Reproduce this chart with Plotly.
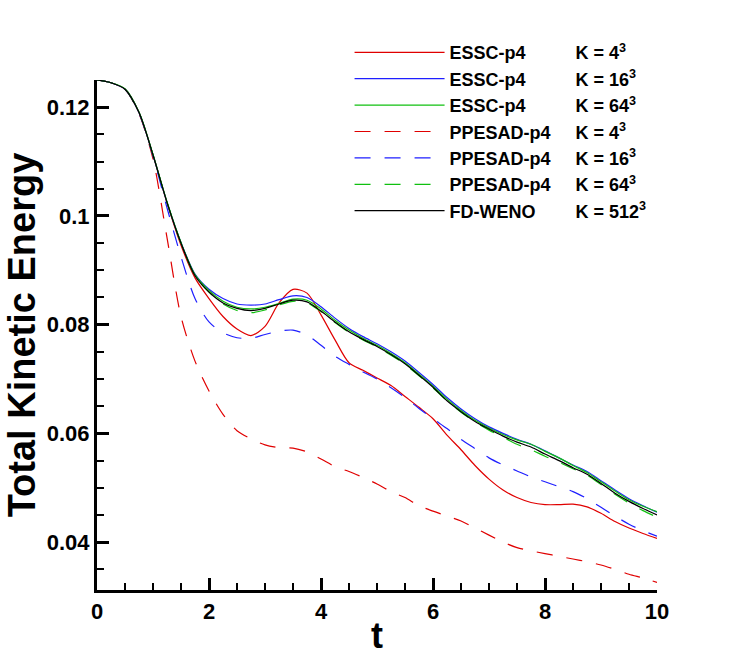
import plotly.graph_objects as go

# time samples
t = [i * 0.25 for i in range(41)]

essc_4 = [0.1250, 0.1245, 0.1233, 0.1190, 0.1112, 0.1024, 0.0946, 0.0886, 0.0848, 0.0815,
          0.0792, 0.0780, 0.0797, 0.0840, 0.0865, 0.0858, 0.0818, 0.0772, 0.0730, 0.0716,
          0.0702, 0.0688, 0.0668, 0.0648, 0.0627, 0.0597, 0.0570, 0.0541, 0.0516, 0.0496,
          0.0482, 0.0473, 0.0469, 0.0469, 0.0470, 0.0465, 0.0453, 0.0438, 0.0426, 0.0416, 0.0407]
essc_16 = [0.1250, 0.1245, 0.1233, 0.1190, 0.1112, 0.1025, 0.0951, 0.0893, 0.0865, 0.0848,
           0.0838, 0.0836, 0.0838, 0.0846, 0.0853, 0.0850, 0.0833, 0.0812, 0.0793, 0.0778,
           0.0765, 0.0750, 0.0733, 0.0712, 0.0690, 0.0666, 0.0645, 0.0627, 0.0612, 0.0600,
           0.0589, 0.0580, 0.0568, 0.0555, 0.0542, 0.0530, 0.0513, 0.0496, 0.0480, 0.0467, 0.0455]
essc_64 = [0.1250, 0.1245, 0.1234, 0.1191, 0.1113, 0.1026, 0.0951, 0.0892, 0.0863, 0.0843,
           0.0832, 0.0829, 0.0832, 0.0839, 0.0847, 0.0845, 0.0829, 0.0808, 0.0790, 0.0775,
           0.0762, 0.0747, 0.0730, 0.0709, 0.0687, 0.0663, 0.0642, 0.0624, 0.0610, 0.0598,
           0.0588, 0.0580, 0.0567, 0.0555, 0.0541, 0.0528, 0.0511, 0.0494, 0.0478, 0.0466, 0.0456]
ppesad_4 = [0.1250, 0.1245, 0.1233, 0.1188, 0.1105, 0.0960, 0.0815, 0.0733, 0.0678, 0.0635,
            0.0605, 0.0590, 0.0579, 0.0574, 0.0573, 0.0566, 0.0553, 0.0539, 0.0530, 0.0519,
            0.0507, 0.0493, 0.0482, 0.0467, 0.0457, 0.0448, 0.0439, 0.0426, 0.0413, 0.0400,
            0.0390, 0.0384, 0.0379, 0.0374, 0.0369, 0.0364, 0.0358, 0.0350, 0.0341, 0.0334, 0.0326]
ppesad_16 = [0.1250, 0.1245, 0.1233, 0.1189, 0.1110, 0.1015, 0.0925, 0.0848, 0.0805, 0.0785,
             0.0776, 0.0775, 0.0782, 0.0788, 0.0790, 0.0781, 0.0762, 0.0742, 0.0727, 0.0713,
             0.0700, 0.0684, 0.0666, 0.0646, 0.0627, 0.0609, 0.0589, 0.0572, 0.0555, 0.0542,
             0.0531, 0.0520, 0.0511, 0.0502, 0.0493, 0.0480, 0.0464, 0.0448, 0.0433, 0.0421, 0.0411]
ppesad_64 = [0.1250, 0.1245, 0.1233, 0.1190, 0.1112, 0.1025, 0.0950, 0.0890, 0.0860, 0.0838,
             0.0826, 0.0822, 0.0827, 0.0836, 0.0843, 0.0840, 0.0824, 0.0804, 0.0786, 0.0772,
             0.0759, 0.0744, 0.0727, 0.0706, 0.0684, 0.0660, 0.0639, 0.0621, 0.0606, 0.0593,
             0.0580, 0.0570, 0.0558, 0.0547, 0.0535, 0.0523, 0.0506, 0.0488, 0.0472, 0.0458, 0.0446]
fd_weno = [0.1250, 0.1245, 0.1233, 0.1190, 0.1112, 0.1025, 0.0950, 0.0890, 0.0860, 0.0840,
           0.0830, 0.0826, 0.0830, 0.0838, 0.0845, 0.0842, 0.0825, 0.0805, 0.0787, 0.0773,
           0.0760, 0.0745, 0.0728, 0.0707, 0.0685, 0.0660, 0.0640, 0.0622, 0.0608, 0.0595,
           0.0584, 0.0575, 0.0562, 0.0550, 0.0537, 0.0525, 0.0508, 0.0490, 0.0475, 0.0462, 0.0450]

NB = "\u00a0"
series = [
    ("ESSC-p4" + NB * 10 + "K = 4<sup>3</sup>", essc_4, "#e00000", "solid"),
    ("ESSC-p4" + NB * 10 + "K = 16<sup>3</sup>", essc_16, "#1f1fff", "solid"),
    ("ESSC-p4" + NB * 10 + "K = 64<sup>3</sup>", essc_64, "#10c010", "solid"),
    ("PPESAD-p4" + NB * 5 + "K = 4<sup>3</sup>", ppesad_4, "#e00000", "16px,14px"),
    ("PPESAD-p4" + NB * 5 + "K = 16<sup>3</sup>", ppesad_16, "#1f1fff", "16px,14px"),
    ("PPESAD-p4" + NB * 5 + "K = 64<sup>3</sup>", ppesad_64, "#10c010", "16px,14px"),
    ("FD-WENO" + NB * 8 + "K = 512<sup>3</sup>", fd_weno, "black", "solid"),
]

font = "Liberation Sans, Arial, sans-serif"

fig = go.Figure()
for name, y, color, dash in series:
    fig.add_trace(go.Scatter(
        x=t, y=y, mode="lines", name=name,
        line=dict(color=color, width=1.2, dash=dash, shape="spline", smoothing=0.8),
    ))

fig.update_layout(
    width=747, height=665,
    margin=dict(l=97, r=90, t=80, b=75, autoexpand=False),
    plot_bgcolor="white", paper_bgcolor="white",
    font=dict(family=font, color="black"),
    legend=dict(
        x=0.451, y=1.090, xanchor="left", yanchor="top",
        font=dict(size=18, weight="bold"),
        itemwidth=90,
        bgcolor="rgba(0,0,0,0)",
    ),
    xaxis=dict(
        range=[0, 10], dtick=2, showgrid=False, zeroline=False,
        showline=True, linecolor="black", linewidth=3,
        ticks="inside", ticklen=12, tickwidth=3, tickcolor="black",
        minor=dict(dtick=0.5, ticks="inside", ticklen=7, tickwidth=1.5, tickcolor="black"),
        tickfont=dict(size=22, weight="bold"),
        title=dict(text="t", font=dict(size=36, weight="bold"), standoff=0),
        automargin=False,
    ),
    yaxis=dict(
        range=[0.0312, 0.125], dtick=0.02, showgrid=False, zeroline=False,
        showline=True, linecolor="black", linewidth=3,
        ticks="inside", ticklen=12, tickwidth=3, tickcolor="black",
        minor=dict(dtick=0.005, ticks="inside", ticklen=7, tickwidth=1.5, tickcolor="black"),
        tickfont=dict(size=22, weight="bold"),
        title=dict(text="Total Kinetic Energy", font=dict(size=38, weight="bold"), standoff=0),
        automargin=False,
    ),
)

# drop the page's default body margin so the figure sits at the window corner
fig.write_html("out.html", config={"displayModeBar": False},
               post_script="document.body.style.margin='0px';")
